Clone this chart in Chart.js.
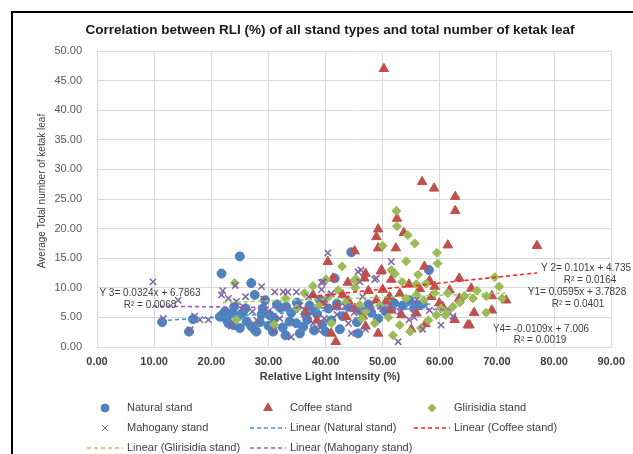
<!DOCTYPE html>
<html>
<head>
<meta charset="utf-8">
<script src="https://cdn.jsdelivr.net/npm/chart.js@4.4.1/dist/chart.umd.min.js"></script>
<style>
  body { margin: 0; background: #fff; overflow: hidden; }
  #frame { position: absolute; left: 11px; top: 11px; width: 700px; height: 500px; border: 2px solid #000; }
  #wrap { position: absolute; left: 0; top: 0; width: 633px; height: 454px; }
</style>
</head>
<body>
<div id="frame"></div>
<div id="wrap"><canvas id="chart" width="633" height="454"></canvas></div>
<script>
// values, [RLI %, avg number of leaves]
let naturalStand = [
    [11.4, 4.2], [16.1, 2.6], [16.8, 4.7], [21.8, 12.4], [25.0, 15.3], [27.0, 10.8], [27.6, 8.8],
    [21.5, 5.1], [22.4, 6.0], [23.7, 5.7], [24.7, 5.2], [26.2, 4.3], [23.9, 3.7], [25.0, 3.2],
    [27.0, 3.5], [27.9, 2.6], [22.7, 4.6], [22.0, 5.5], [23.0, 4.0], [29.4, 7.9], [30.2, 5.4],
    [33.7, 4.3], [34.9, 4.0], [36.1, 3.4], [27.6, 2.9], [30.8, 2.6], [35.5, 2.3], [33.1, 6.8],
    [32.1, 6.6], [31.0, 4.8], [32.5, 3.3], [34.0, 5.8], [36.8, 4.6], [37.5, 6.2], [38.5, 5.6],
    [39.4, 3.8], [40.5, 6.5], [41.6, 11.6], [42.0, 7.3], [43.0, 5.2], [44.5, 16.0], [45.7, 2.3],
    [46.0, 6.2], [49.2, 4.8], [47.5, 7.2], [50.5, 6.0], [52.0, 7.4], [54.7, 7.9], [58.1, 13.0],
    [55.5, 6.5], [57.0, 7.3], [42.5, 3.0], [38.0, 2.8], [29.0, 6.5], [28.5, 4.2], [26.0, 6.5],
    [31.5, 7.2], [35.0, 7.5], [39.0, 8.0], [24.0, 6.8], [25.5, 5.8], [28.8, 5.5], [30.0, 3.6],
    [33.0, 2.0], [36.5, 5.5], [41.0, 4.5], [44.0, 6.8], [45.5, 4.2], [48.0, 5.8], [51.5, 6.5],
    [53.5, 7.0], [56.0, 7.0], [40.0, 2.6], [37.2, 7.0]
];
let coffeeStand = [
    [50.2, 47.0], [56.9, 27.9], [59.0, 26.8], [62.7, 25.4], [62.7, 23.0], [52.5, 21.7], [49.2, 19.9],
    [48.9, 18.6], [53.7, 19.3], [49.2, 16.7], [52.3, 16.7], [61.4, 17.2], [45.1, 16.2], [77.0, 17.1],
    [40.4, 14.4], [57.3, 13.6], [49.7, 12.8], [47.0, 12.4], [41.3, 11.6], [51.5, 11.4], [58.2, 11.2],
    [63.4, 11.6], [54.6, 10.6], [59.1, 10.2], [50.0, 9.7], [61.7, 9.6], [65.5, 9.9], [63.4, 8.2],
    [51.2, 8.5], [69.1, 8.6], [71.6, 7.9], [48.9, 7.9], [50.6, 7.7], [59.9, 7.4], [46.5, 5.2],
    [51.5, 6.2], [55.9, 5.7], [53.3, 5.4], [69.1, 6.2], [62.6, 4.6], [64.9, 3.7], [57.5, 3.9],
    [65.2, 3.7], [49.2, 2.3], [41.0, 2.3], [41.8, 0.9], [43.6, 5.1], [43.9, 10.9], [37.8, 8.8],
    [43.0, 8.8], [46.8, 11.6], [49.8, 13.0], [45.1, 6.5], [39.5, 7.5], [42.0, 6.8], [44.0, 7.8],
    [47.5, 9.5], [53.0, 9.0], [56.5, 9.8], [58.5, 8.5], [60.5, 6.8], [66.0, 5.8], [36.5, 6.0],
    [38.5, 4.5], [55.0, 3.0], [47.0, 3.5]
];
let glirisidiaStand = [
    [52.4, 23.0], [52.5, 20.4], [54.4, 18.9], [55.6, 17.5], [50.0, 17.1], [59.5, 15.9], [54.1, 14.5],
    [59.6, 14.1], [42.9, 13.6], [51.5, 13.0], [52.1, 12.4], [56.2, 12.2], [53.4, 11.0], [45.4, 11.4],
    [55.9, 10.6], [57.6, 10.7], [45.2, 10.0], [61.4, 9.1], [59.1, 9.1], [55.9, 8.8], [54.1, 8.2],
    [64.3, 8.6], [57.2, 7.9], [46.0, 7.1], [62.3, 6.8], [60.2, 6.5], [59.4, 5.4], [61.0, 5.4],
    [53.0, 3.7], [51.8, 2.0], [56.7, 3.2], [54.8, 2.6], [69.6, 11.8], [70.4, 10.2], [70.9, 8.2],
    [68.1, 8.6], [65.8, 8.2], [68.1, 5.8], [61.4, 6.0], [48.6, 4.0], [46.3, 4.8], [41.0, 4.0],
    [36.3, 9.1], [37.8, 10.3], [42.2, 9.6], [45.1, 11.3], [40.1, 11.4], [24.1, 10.8], [24.4, 4.6],
    [33.0, 8.2], [35.0, 6.5], [38.8, 7.0], [40.5, 8.5], [43.5, 7.5], [47.0, 6.0], [49.5, 7.0],
    [51.0, 5.0], [63.5, 7.5], [66.5, 9.5], [58.0, 4.5], [31.0, 3.8]
];
let mahoganyStand = [
    [9.8, 11.0], [11.6, 4.8], [14.2, 7.9], [16.3, 2.9], [17.1, 5.2], [18.0, 4.6], [19.5, 4.6],
    [21.8, 8.8], [23.0, 8.2], [24.4, 7.7], [24.2, 10.4], [25.6, 6.8], [27.2, 6.0], [28.8, 10.2],
    [29.2, 8.1], [31.1, 9.3], [32.6, 9.3], [33.4, 9.3], [34.9, 9.3], [36.9, 5.1], [38.7, 2.9],
    [39.8, 4.8], [34.0, 1.7], [39.3, 10.9], [40.4, 15.9], [45.7, 12.7], [46.2, 13.0], [48.6, 11.4],
    [46.0, 11.0], [39.6, 11.0], [39.3, 9.7], [39.9, 8.0], [37.8, 4.0], [44.5, 2.3], [48.0, 7.1],
    [51.5, 14.4], [58.2, 6.2], [62.3, 5.2], [54.6, 4.6], [60.2, 3.7], [52.7, 0.9], [48.9, 11.6],
    [26.0, 8.5], [30.0, 6.0], [32.0, 4.8], [35.5, 7.0], [37.0, 8.5], [42.0, 5.5], [43.5, 6.8],
    [41.0, 9.0], [50.0, 6.5], [53.0, 6.0], [56.0, 8.0], [22.0, 9.5], [23.5, 3.5], [28.0, 4.5],
    [31.0, 2.8], [44.0, 4.0], [46.5, 8.5], [45.0, 5.8], [47.0, 3.0], [55.5, 5.0], [57.0, 3.0]
];

// trendlines as printed on the chart: slope, intercept, x range covered
let trendSlopes = [0.0595, 0.101, 0.0324, -0.0109];
let trendIntercepts = [3.7828, 4.735, 6.7863, 7.006];
let trendRanges = [[11.2, 58.5], [37.5, 77.0], [22.0, 71.5], [9.8, 62.2]];
let trendLabels = [
    ['Y1= 0.0595x + 3.7828', 'R\u00b2 = 0.0401'],
    ['Y 2= 0.101x + 4.735', 'R\u00b2 = 0.0164'],
    ['Y 3= 0.0324x + 6.7863', 'R\u00b2 = 0.0068'],
    ['Y4= -0.0109x + 7.006', 'R\u00b2 = 0.0019']
];

let seriesNames = ['Natural stand', 'Coffee stand', 'Glirisidia stand', 'Mahogany stand'];
let xTicks = [0, 10, 20, 30, 40, 50, 60, 70, 80, 90];
let yTicks = [0, 5, 10, 15, 20, 25, 30, 35, 40, 45, 50];

const FONT = '"Liberation Sans", Arial, sans-serif';
const markerColors = ['#4F81BD', '#C0504D', '#9BBB59', '#8064A2'];
const trendColors = ['#3A9AD9', '#FF2020', '#9ED05A', '#9A5CCB'];
const markerStyles = ['circle', 'triangle', 'rectRot', 'crossRot'];
const markerRadius = [4.5, 5.5, 4.5, 4.5];

let toPoints = arr => arr.map(p => ({x: p[0], y: p[1]}));

let datasets = [];
let allSeries = [naturalStand, coffeeStand, glirisidiaStand, mahoganyStand];
allSeries.forEach((s, i) => {
    datasets.push({
        label: seriesNames[i],
        data: toPoints(s),
        pointStyle: markerStyles[i],
        pointRadius: markerRadius[i],
        pointHoverRadius: markerRadius[i],
        backgroundColor: markerColors[i],
        borderColor: markerColors[i],
        pointBorderWidth: i === 3 ? 1.5 : 1,
        showLine: false,
        order: 8 - i
    });
});
trendSlopes.forEach((m, i) => {
    let r = trendRanges[i];
    datasets.push({
        label: 'Linear (' + seriesNames[i] + ')',
        data: [{x: r[0], y: m * r[0] + trendIntercepts[i]}, {x: r[1], y: m * r[1] + trendIntercepts[i]}],
        showLine: true,
        pointRadius: 0,
        borderColor: trendColors[i],
        borderWidth: 1.6,
        borderDash: [4, 3],
        order: 4 - i
    });
});

// title, axis titles, trendline equations and the 3 column legend
const decorations = {
    id: 'decorations',
    afterDraw(chart) {
        let ctx = chart.ctx;
        ctx.save();
        ctx.textBaseline = 'middle';
        ctx.textAlign = 'center';

        ctx.fillStyle = '#1a1a1a';
        ctx.font = 'bold 13.5px ' + FONT;
        ctx.fillText('Correlation between RLI (%) of all stand types and total number of ketak leaf', 330, 30);

        ctx.fillStyle = '#404040';
        ctx.font = 'bold 11px ' + FONT;
        ctx.fillText('Relative Light Intensity (%)', 330, 377);

        ctx.save();
        ctx.translate(42, 191);
        ctx.rotate(-Math.PI / 2);
        ctx.font = '10px ' + FONT;
        ctx.fillText('Average Total number of ketak leaf', 0, 0);
        ctx.restore();

        // equation labels
        ctx.font = '10px ' + FONT;
        ctx.fillStyle = '#404040';
        let eqPos = [[577, 292, 578, 304], [586, 268, 590, 280], [150, 293, 150, 305], [541, 329, 540, 340]];
        trendLabels.forEach((t, i) => {
            let p = eqPos[i];
            ctx.fillText(t[0], p[0], p[1]);
            ctx.fillText(t[1], p[2], p[3]);
        });

        // legend
        let cols = [87, 250, 414];
        let rows = [408, 428, 448];
        let slots = [[0, 0], [1, 0], [2, 0], [0, 1], [1, 1], [2, 1], [0, 2], [1, 2]];
        ctx.font = '11px ' + FONT;
        ctx.textAlign = 'left';
        chart.data.datasets.forEach((ds, i) => {
            let x = cols[slots[i][0]];
            let y = rows[slots[i][1]];
            if (ds.showLine) {
                ctx.save();
                ctx.strokeStyle = ds.borderColor;
                ctx.lineWidth = 1.6;
                ctx.setLineDash([4, 3]);
                ctx.beginPath();
                ctx.moveTo(x, y);
                ctx.lineTo(x + 36, y);
                ctx.stroke();
                ctx.restore();
            } else {
                ctx.save();
                ctx.fillStyle = ds.backgroundColor;
                ctx.strokeStyle = ds.borderColor;
                Chart.helpers.drawPoint(ctx, {
                    pointStyle: ds.pointStyle,
                    radius: ds.pointRadius - 0.5,
                    borderWidth: ds.pointBorderWidth,
                    rotation: 0
                }, x + 18, y);
                ctx.restore();
            }
            ctx.fillStyle = '#404040';
            ctx.fillText(ds.label, x + 40, y);
        });
        ctx.restore();
    }
};

window.onload = function() {
    let gridColor = '#D9D9D9';
    new Chart(document.getElementById('chart').getContext('2d'), {
        type: 'scatter',
        data: {datasets: datasets},
        options: {
            responsive: false,
            animation: false,
            devicePixelRatio: 1,
            layout: {padding: {left: 32, right: 21, top: 51, bottom: 67}},
            plugins: {legend: {display: false}, title: {display: false}, tooltip: {enabled: false}},
            scales: {
                x: {
                    type: 'linear',
                    min: xTicks[0],
                    max: xTicks[xTicks.length - 1],
                    afterBuildTicks: s => { s.ticks = xTicks.map(v => ({value: v})); },
                    afterFit: s => { s.height = 40; },
                    grid: {color: gridColor, drawTicks: false},
                    border: {color: gridColor},
                    ticks: {
                        padding: 8,
                        color: '#404040',
                        font: {family: FONT, size: 11, weight: 'bold'},
                        callback: v => Number(v).toFixed(2)
                    }
                },
                y: {
                    type: 'linear',
                    min: yTicks[0],
                    max: yTicks[yTicks.length - 1],
                    afterBuildTicks: s => { s.ticks = yTicks.map(v => ({value: v})); },
                    afterFit: s => { s.width = 65; },
                    grid: {color: gridColor, drawTicks: false},
                    border: {color: gridColor},
                    ticks: {
                        padding: 15,
                        color: '#595959',
                        font: {family: FONT, size: 11},
                        callback: v => Number(v).toFixed(2)
                    }
                }
            }
        },
        plugins: [decorations]
    });
};
</script>
</body>
</html>
